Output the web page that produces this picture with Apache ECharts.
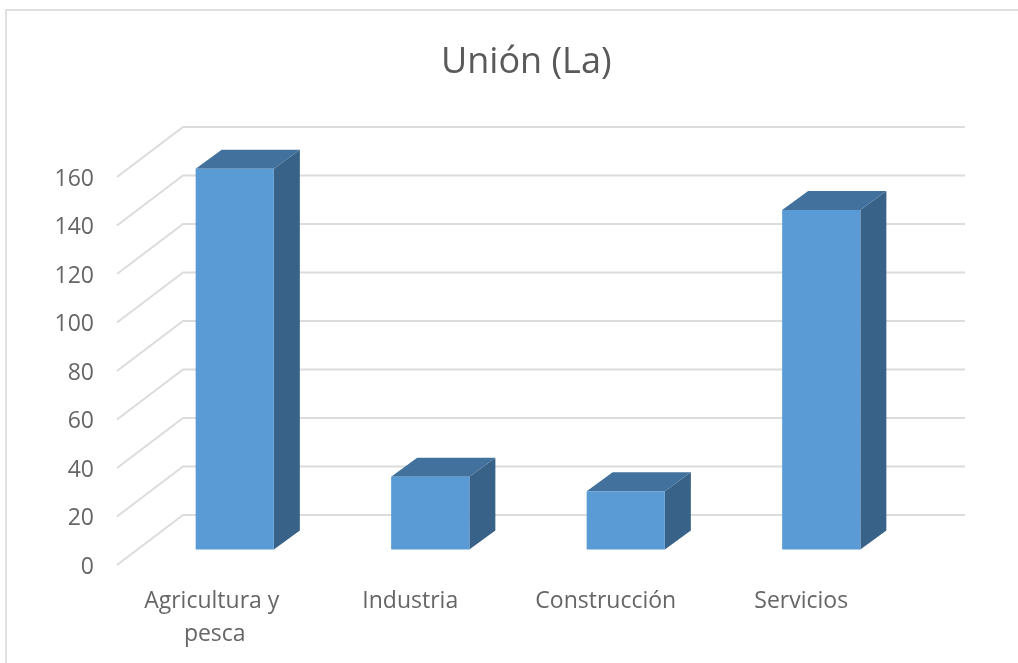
<!DOCTYPE html>
<html><head><meta charset="utf-8">
<style>html,body{margin:0;padding:0;background:#fff}#c{width:1018px;height:663px}</style>
<script src="https://cdn.jsdelivr.net/npm/echarts@6/dist/echarts.min.js"></script>
</head><body><div id="c"></div>
<script>
const titleText = 'Unión (La)';
const categories = ['Agricultura y pesca', 'Industria', 'Construcción', 'Servicios'];
const values = [157, 30, 24, 140];
const ticks = [0, 20, 40, 60, 80, 100, 120, 140, 160];

const FONT = '"Open Sans", sans-serif';
const WALL = { dx: 66, dy: -50 };
const BAR_FRONT = { dx: 20, dy: -15.5 };
const BAR_DEPTH = { dx: 26, dy: -19 };
const C = { front: '#5B9BD5', top: '#41719C', side: '#386288', grid: '#DCDCDC', text: '#666666', frame: '#E0E0E0' };

const chart = echarts.init(document.getElementById('c'), null, { renderer: 'canvas' });
chart.setOption({
  animation: false,
  backgroundColor: '#ffffff',
  title: { text: titleText, left: 436, top: 40, textStyle: { fontFamily: FONT, fontSize: 36, fontWeight: 'normal', color: '#595959' } },
  graphic: [
    { type: 'polyline', silent: true, z: -1, shape: { points: [[6, 663], [6, 10], [1018, 10]] }, style: { fill: null, stroke: C.frame, lineWidth: 2 } }
  ],
  grid: { left: 117, top: 177, width: 782, height: 388 },
  xAxis: {
    type: 'category', data: categories,
    axisLine: { show: false }, axisTick: { show: false }, splitLine: { show: false },
    axisLabel: { interval: 0, margin: 20, width: 170, overflow: 'break', lineHeight: 33, fontFamily: FONT, fontSize: 23, color: C.text }
  },
  yAxis: {
    type: 'value', min: 0, max: 160, interval: 20,
    axisLine: { show: false }, axisTick: { show: false }, splitLine: { show: false },
    axisLabel: {
      margin: 23, formatter: '{v|{value}}',
      rich: { v: { padding: [4, 0, 0, 0], fontFamily: FONT, fontSize: 23, color: C.text } }
    }
  },
  series: [
    {
      type: 'custom', coordinateSystem: 'cartesian2d', silent: true, clip: false, z: 1,
      data: ticks.map(t => [0, t]),
      encode: { x: 0, y: 1 },
      renderItem(params, api) {
        const y = api.coord([0, api.value(1)])[1];
        const x0 = params.coordSys.x, x1 = x0 + params.coordSys.width;
        return { type: 'polyline',
          shape: { points: [[x0, y], [x0 + WALL.dx, y + WALL.dy], [x1 + WALL.dx, y + WALL.dy]] },
          style: { fill: null, stroke: C.grid, lineWidth: 2 } };
      }
    },
    {
      type: 'custom', coordinateSystem: 'cartesian2d', silent: true, clip: false, z: 2,
      data: values.map((v, i) => [i, v]),
      encode: { x: 0, y: 1 },
      renderItem(params, api) {
        const base = api.coord([api.value(0), 0]);
        const top = api.coord([api.value(0), api.value(1)]);
        const w = api.size([1, 0])[0] * 0.4;
        const l = base[0] - w / 2 + BAR_FRONT.dx, r = l + w;
        const b = base[1] + BAR_FRONT.dy, t = top[1] + BAR_FRONT.dy;
        const dx = BAR_DEPTH.dx, dy = BAR_DEPTH.dy;
        return { type: 'group', children: [
          { type: 'polygon', shape: { points: [[r, b], [r + dx, b + dy], [r + dx, t + dy], [r, t]] }, style: { fill: C.side } },
          { type: 'polygon', shape: { points: [[l, t], [r, t], [r + dx, t + dy], [l + dx, t + dy]] }, style: { fill: C.top } },
          { type: 'rect', shape: { x: l, y: t, width: w, height: b - t }, style: { fill: C.front } }
        ] };
      }
    }
  ]
});
</script></body></html>
